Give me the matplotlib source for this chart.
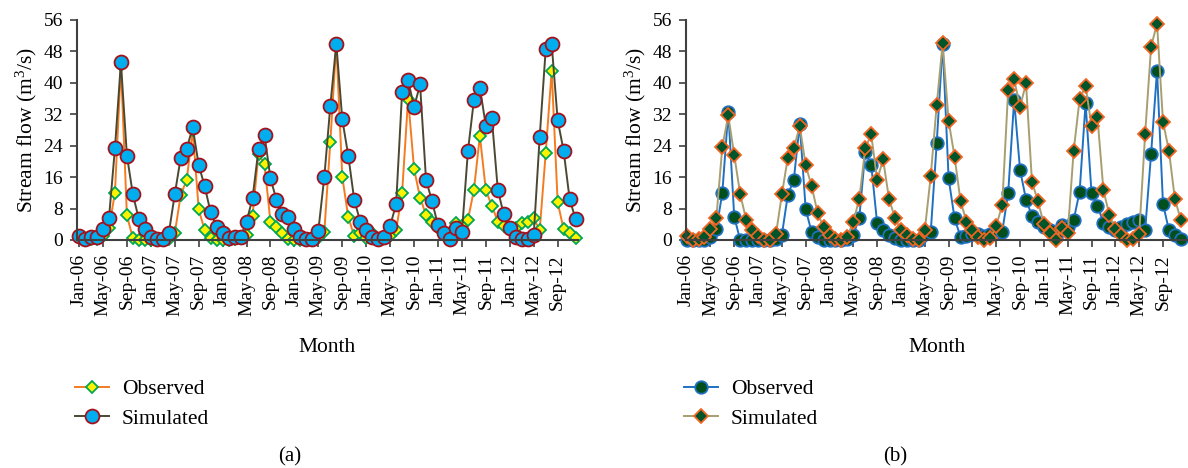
import matplotlib.pyplot as plt

plt.rcParams['font.family'] = 'Liberation Serif'
plt.rcParams['mathtext.fontset'] = 'custom'
plt.rcParams['mathtext.rm'] = 'Liberation Serif'
plt.rcParams['mathtext.default'] = 'regular'

# monthly series, Jan-2006 .. Dec-2012
months = [f'{m}-{y:02d}' for y in range(6, 13)
          for m in ['Jan', 'Feb', 'Mar', 'Apr', 'May', 'Jun',
                    'Jul', 'Aug', 'Sep', 'Oct', 'Nov', 'Dec']]

obs_a = [0.7, 0.0, 0.3, 0.3, 1.0, 3.0, 12.0, 44.5, 6.3, 0.4, 0.0, 0.0,
         0.0, 0.0, 0.0, 0.3, 1.7, 11.5, 15.3, 28.0, 7.8, 2.5, 0.4, 0.0,
         0.0, 0.0, 0.2, 0.5, 1.3, 6.1, 22.0, 19.3, 4.5, 3.4, 1.7, 0.2,
         0.0, 0.0, 0.0, 0.0, 0.5, 2.1, 24.9, 50.0, 16.1, 5.8, 1.0, 1.7,
         0.5, 1.9, 0.3, 0.5, 1.0, 2.5, 12.0, 36.0, 18.1, 10.8, 6.4, 4.7,
         3.0, 1.7, 0.0, 4.4, 3.5, 5.1, 12.7, 26.5, 12.6, 8.7, 4.7, 3.6,
         2.5, 3.0, 4.4, 4.7, 5.5, 2.5, 22.1, 43.1, 9.6, 2.7, 1.7, 0.6]

sim_a = [1.0, 0.2, 0.7, 0.7, 2.7, 5.5, 23.3, 45.2, 21.5, 11.6, 5.3, 2.7,
         0.7, 0.2, 0.2, 1.7, 11.6, 21.0, 23.2, 28.7, 19.1, 13.7, 7.0, 3.4,
         1.7, 0.6, 0.7, 0.7, 4.7, 10.6, 23.2, 26.7, 15.7, 10.2, 6.5, 5.9,
         2.9, 0.8, 0.3, 0.2, 2.4, 16.1, 34.1, 50.0, 30.7, 21.5, 10.2, 4.7,
         2.5, 0.7, 0.2, 0.7, 3.6, 9.1, 37.7, 40.7, 33.8, 39.6, 15.3, 9.9,
         3.7, 1.7, 0.2, 3.0, 2.0, 22.6, 35.6, 38.8, 29.0, 31.0, 12.7, 6.5,
         3.0, 0.8, 0.2, 0.2, 1.3, 26.3, 48.5, 49.9, 30.5, 22.7, 10.4, 5.3]

obs_b = [0.0, 0.0, 0.0, 0.0, 0.7, 2.7, 12.0, 32.7, 5.9, 0.0, 0.0, 0.0,
         0.0, 0.0, 0.0, 0.3, 1.3, 11.5, 15.3, 29.5, 7.8, 2.0, 0.7, 0.0,
         0.0, 0.0, 0.0, 0.3, 1.3, 5.6, 22.5, 19.2, 4.2, 2.6, 1.3, 0.6,
         0.0, 0.0, 0.0, 0.0, 1.5, 2.1, 24.6, 50.0, 15.7, 5.5, 0.8, 1.0,
         1.5, 1.5, 1.0, 1.5, 2.0, 2.1, 11.9, 35.6, 17.8, 10.3, 6.1, 4.7,
         3.4, 2.5, 0.8, 3.8, 3.4, 5.1, 12.3, 34.9, 11.9, 8.7, 4.4, 3.4,
         2.5, 3.4, 4.1, 4.7, 5.1, 2.5, 21.9, 43.1, 9.2, 2.5, 1.3, 0.2]

sim_b = [1.0, 0.0, 0.2, 0.8, 2.7, 5.7, 23.7, 31.7, 21.6, 11.7, 5.2, 2.5,
         1.0, 0.1, 0.0, 1.4, 11.6, 21.0, 23.3, 29.0, 19.0, 13.7, 6.9, 3.2,
         1.3, 0.2, 0.1, 0.8, 4.7, 10.4, 23.3, 26.9, 15.3, 20.5, 10.4, 5.6,
         2.5, 1.3, 0.2, 0.0, 2.5, 16.3, 34.4, 50.1, 30.3, 21.2, 9.9, 4.7,
         2.5, 0.8, 0.0, 0.4, 3.6, 8.9, 38.2, 40.9, 33.9, 39.9, 14.8, 9.9,
         4.0, 1.7, 0.0, 3.0, 1.7, 22.7, 35.9, 39.2, 29.0, 31.2, 12.6, 6.4,
         2.7, 1.3, 0.0, 0.2, 1.4, 27.0, 49.2, 55.1, 30.1, 22.7, 10.4, 5.1]

x = list(range(len(months)))

fig = plt.figure(figsize=(11.88, 4.68), dpi=100)
ax1 = fig.add_axes([77 / 1188, 1 - 240 / 468, 501 / 1188, 220 / 468])
ax2 = fig.add_axes([686 / 1188, 1 - 240 / 468, 502 / 1188, 220 / 468])

ax1.plot(x, obs_a, color='#F47B20', lw=1.4, marker='D', ms=6.5,
         mfc='#FFF200', mec='#00A651', mew=1.3, label='Observed')
ax1.plot(x, sim_a, color='#4B4832', lw=1.4, marker='o', ms=10,
         mfc='#00AEEF', mec='#A3111B', mew=1.3, label='Simulated')

ax2.plot(x, obs_b, color='#1F70C1', lw=1.4, marker='o', ms=9.0,
         mfc='#004F1C', mec='#1F70C1', mew=1.3, label='Observed')
ax2.plot(x, sim_b, color='#A89F70', lw=1.4, marker='D', ms=7.0,
         mfc='#00552B', mec='#F26522', mew=1.3, label='Simulated')

for ax, x0, lo, hi in [(ax1, 77, -0.34, 83.4), (ax2, 686, -0.1, 84.2)]:
    ax.set_xlim(lo, hi)
    ax.set_ylim(0, 56)
    ax.set_yticks(range(0, 57, 8))
    ax.set_xticks(x[::4])
    ax.set_xticklabels(months[::4], rotation=90)
    ax.tick_params(labelsize=14, length=5, width=1.2, color='#404040', pad=5)
    for s in ['top', 'right']:
        ax.spines[s].set_visible(False)
    for s in ['left', 'bottom']:
        ax.spines[s].set_color('#404040')
        ax.spines[s].set_linewidth(1.5)
    ax.set_ylabel('Stream flow (m$^3$/s)', fontsize=15.5, labelpad=3)
    ax.set_xlabel('Month', fontsize=15.5, labelpad=16)
    leg = ax.legend(loc='upper left', bbox_to_anchor=(x0 / 1188 - 0.002, 1 - 379 / 468),
                    bbox_transform=fig.transFigure, frameon=False, fontsize=15.5,
                    handlelength=1.6, handletextpad=0.6, labelspacing=0.45,
                    borderaxespad=0, borderpad=0)
    for line in ax.lines:
        line.set_clip_on(False)

fig.text(290 / 1188, 1 - 457 / 468, '(a)', ha='center', va='center', fontsize=15)
fig.text(895 / 1188, 1 - 457 / 468, '(b)', ha='center', va='center', fontsize=15)

fig.savefig('out.png', dpi=100)
